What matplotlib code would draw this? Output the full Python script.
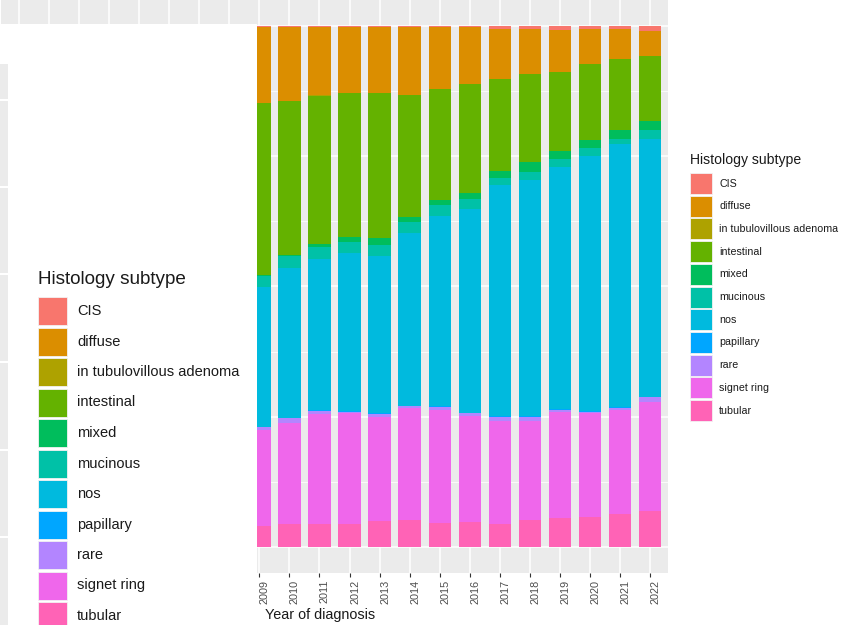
import matplotlib
matplotlib.use("Agg")
import matplotlib.pyplot as plt
import matplotlib.transforms as mtransforms
from matplotlib.patches import Rectangle
import numpy as np

plt.rcParams['font.family'] = ['Liberation Sans', 'DejaVu Sans']

# ---------------- data ----------------
years = [2009, 2010, 2011, 2012, 2013, 2014, 2015, 2016, 2017, 2018, 2019, 2020, 2021, 2022]
subtypes = ["CIS", "diffuse", "in tubulovillous adenoma", "intestinal", "mixed",
            "mucinous", "nos", "papillary", "rare", "signet ring", "tubular"]
colors = ["#F8766D", "#DB8E00", "#AEA200", "#64B200", "#00BD5C", "#00C1A7",
          "#00BADE", "#00A6FF", "#B385FF", "#EF67EB", "#FF63B6"]

cis        = [.0025, .0025, .0025, .0025, .0025, .0025, .0025, .0025, .005, .005, .0077, .0064, .0058, .009]
diffuse    = [.145, .141, .129, .1255, .1255, .130, .118, .109, .096, .087, .080, .0666, .058, .048]
tva        = [0, 0, .003, 0, 0, 0, 0, 0, 0, 0, 0, 0, 0, 0]
intestinal = [.332, .296, .283, .277, .279, .235, .214, .210, .1766, .170, .1516, .146, .136, .126]
mixed      = [.002, .002, .0065, .009, .0129, .009, .0096, .0115, .014, .019, .0154, .0148, .016, .0167]
mucinous   = [.022, .024, .022, .021, .021, .0205, .021, .0186, .0134, .0154, .0166, .016, .0102, .018]
nos        = [.268, .288, .291, .305, .3025, .332, .365, .391, .4447, .453, .464, .491, .504, .495]
papillary  = [.001, .001, .001, .001, .002, .001, .001, .001, .001, .001, .002, .001, .002, .001]
rare       = [.005, .0096, .0063, .003, .006, .0045, .0064, .0063, .0083, .0083, .0045, .003, .004, .0084]
signet     = [.186, .194, .211, .213, .199, .214, .217, .204, .198, .190, .203, .1996, .1996, .2098]
tubular    = [.040, .044, .044, .0436, .050, .052, .0455, .047, .0436, .0518, .0557, .057, .0633, .069]

series = [cis, diffuse, tva, intestinal, mixed, mucinous, nos, papillary, rare, signet, tubular]

# ---------------- layout helpers ----------------
W, H = 846, 625
fig = plt.figure(figsize=(W / 100, H / 100), dpi=100)
fig.patch.set_facecolor("white")

def fx(px):
    return px / W

def fy(py):
    return 1 - py / H

# main panel
pl, pr, pt, pb = 1, 668, 0, 573
ax = fig.add_axes([fx(pl), fy(pb), fx(pr - pl), (pb - pt) / H])
ax.set_facecolor("#EBEBEB")
n_hidden = 8
ax.set_xlim(-n_hidden - 0.6, len(years) - 1 + 0.6)
ax.set_ylim(-0.05, 1.05)

vals = np.array(series, dtype=float)
vals = vals / vals.sum(axis=0)
x = np.arange(len(years))
bottom = np.zeros(len(years))
for i in range(len(subtypes) - 1, -1, -1):
    ax.bar(x, vals[i], bottom=bottom, width=0.74, color=colors[i], linewidth=0, zorder=3)
    bottom += vals[i]

# grid
ticks = list(range(-n_hidden, len(years)))
ax.set_xticks(ticks)
ax.set_xticklabels(["" if t < 0 else str(years[t]) for t in ticks],
                   rotation=90, fontsize=7.8, color="#4D4D4D")
ax.set_yticks([0, 0.25, 0.5, 0.75, 1.0])
ax.set_yticks([0.125, 0.375, 0.625, 0.875], minor=True)
ax.grid(True, which="major", color="white", linewidth=1.1, zorder=0)
ax.grid(True, which="minor", axis="y", color="white", linewidth=0.55, zorder=0)
ax.set_axisbelow(True)
ax.tick_params(axis="y", which="both", left=False, labelleft=False)
ax.tick_params(axis="x", length=3, width=0.8, color="#333333", pad=2)
for lab in ax.get_xticklabels():
    lab.set_transform(lab.get_transform() +
                      mtransforms.ScaledTranslation(0.055, 0, fig.dpi_scale_trans))
for s in ax.spines.values():
    s.set_visible(False)

fig.text(fx(265), fy(615), "Year of diagnosis", fontsize=10.4, color="#1A1A1A",
         ha="left", va="center")

# ---------------- white overlay on the left with partial strip ----------------
fig.add_artist(Rectangle((0, 0), fx(257), fy(24), transform=fig.transFigure,
                         facecolor="white", edgecolor="none", zorder=10))
fig.add_artist(Rectangle((0, 0), fx(8), fy(64), transform=fig.transFigure,
                         facecolor="#EBEBEB", edgecolor="none", zorder=11))
for yy in [100, 187, 274, 362, 450, 537]:
    fig.add_artist(Rectangle((0, fy(yy) - 0.5 / H), fx(8), 1.2 / H, transform=fig.transFigure,
                             facecolor="white", edgecolor="none", zorder=12))

# ---------------- legends ----------------
def draw_legend(title_x, title_y, title_size, key_x, key_top, key_w, key_h, step,
                label_x, label_size):
    fig.text(fx(title_x), fy(title_y), "Histology subtype", fontsize=title_size,
             color="#1A1A1A", ha="left", va="center", zorder=20)
    for i, (name, c) in enumerate(zip(subtypes, colors)):
        top = key_top + i * step
        fig.add_artist(Rectangle((fx(key_x), fy(top + key_h)), fx(key_w), key_h / H,
                                 transform=fig.transFigure, facecolor=c,
                                 edgecolor="#F2F2F2", linewidth=0.6, zorder=20))
        fig.text(fx(label_x), fy(top + key_h / 2), name, fontsize=label_size,
                 color="#1A1A1A", ha="left", va="center", zorder=20)

# left (large) legend
draw_legend(38, 279, 13.6, 38, 297, 29, 28, 30.5, 77, 10.5)
# right (small) legend
draw_legend(690, 160, 10.1, 690, 173, 22, 21, 22.7, 719, 7.7)

fig.savefig("out.png", dpi=100, facecolor="white")
